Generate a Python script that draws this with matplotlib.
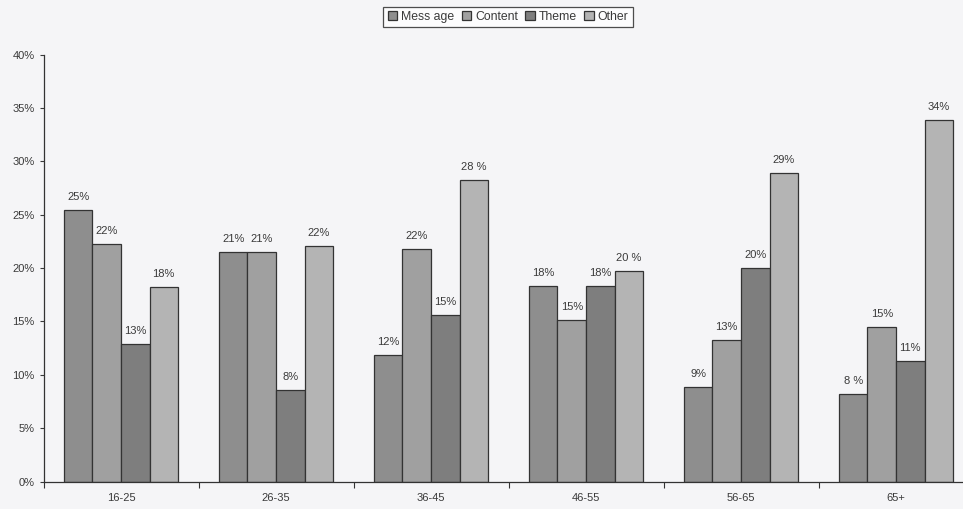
import matplotlib.pyplot as plt
import numpy as np
from matplotlib.ticker import MultipleLocator, FuncFormatter

plt.rcParams["font.family"] = ["Liberation Sans", "DejaVu Sans"]

# data (percent)
age_groups = ["16-25", "26-35", "36-45", "46-55", "56-65", "65+"]
series_names = ["Message", "Content", "Theme", "Other"]
message = [25.4, 21.5, 11.9, 18.3, 8.9, 8.2]
content = [22.3, 21.5, 21.8, 15.1, 13.3, 14.5]
theme = [12.9, 8.6, 15.6, 18.3, 20.0, 11.3]
other = [18.2, 22.1, 28.3, 19.7, 28.9, 33.9]
value_labels = [
    ["25%", "21%", "12%", "18%", "9%", "8 %"],
    ["22%", "21%", "22%", "15%", "13%", "15%"],
    ["13%", "8%", "15%", "18%", "20%", "11%"],
    ["18%", "22%", "28 %", "20 %", "29%", "34%"],
]
legend_labels = ["Mess age", "Content", "Theme", "Other"]

colors = ["#8e8e8e", "#a0a0a0", "#7e7e7e", "#b4b4b4"]
bg = "#f5f5f7"
txt = "#3a3a3a"

fig = plt.figure(figsize=(9.63, 5.09), dpi=100, facecolor=bg)
W, H = 963, 509
ax = fig.add_axes([43.5 / W, 27.5 / H, 930 / W, 426.8 / H])
ax.set_facecolor(bg)

x = np.arange(len(age_groups))
bw = 0.184
all_series = [message, content, theme, other]
for i, vals in enumerate(all_series):
    pos = x + (i - 1.5) * bw
    ax.bar(pos, vals, width=bw, color=colors[i], edgecolor="#333333",
           linewidth=0.9, label=legend_labels[i], zorder=2)
    for px, v, t in zip(pos, vals, value_labels[i]):
        ax.text(px, v + 0.75, t, ha="center", va="bottom", fontsize=8,
                color=txt)

ax.set_xlim(-0.5, len(age_groups) - 0.5)
ax.set_ylim(0, 40)
ax.yaxis.set_major_locator(MultipleLocator(5))
ax.yaxis.set_major_formatter(FuncFormatter(lambda v, p: f"{v:.0f}%"))
ax.tick_params(axis="y", labelsize=8, colors=txt, length=3, width=0.8)

# category labels centred, tick marks at group boundaries
ax.set_xticks(x)
ax.set_xticklabels(age_groups)
ax.tick_params(axis="x", length=0, labelsize=8, colors=txt, pad=8)
ax.set_xticks(np.arange(len(age_groups) + 1) - 0.5, minor=True)
ax.tick_params(axis="x", which="minor", length=4, width=0.8, color="#333333")

for s in ["top", "right"]:
    ax.spines[s].set_visible(False)
for s in ["left", "bottom"]:
    ax.spines[s].set_color("#333333")
    ax.spines[s].set_linewidth(0.9)

leg = fig.legend(loc="center", bbox_to_anchor=(508 / W, 1 - 17 / H), ncol=4,
                 fontsize=8.8, frameon=True, fancybox=False, handlelength=0.8,
                 handleheight=0.8, handletextpad=0.3, columnspacing=0.6,
                 borderpad=0.35, borderaxespad=0)
leg.get_frame().set_edgecolor("#222222")
leg.get_frame().set_linewidth(0.9)
leg.get_frame().set_facecolor("white")
for t in leg.get_texts():
    t.set_color(txt)

fig.savefig("out.png", dpi=100, facecolor=bg)
